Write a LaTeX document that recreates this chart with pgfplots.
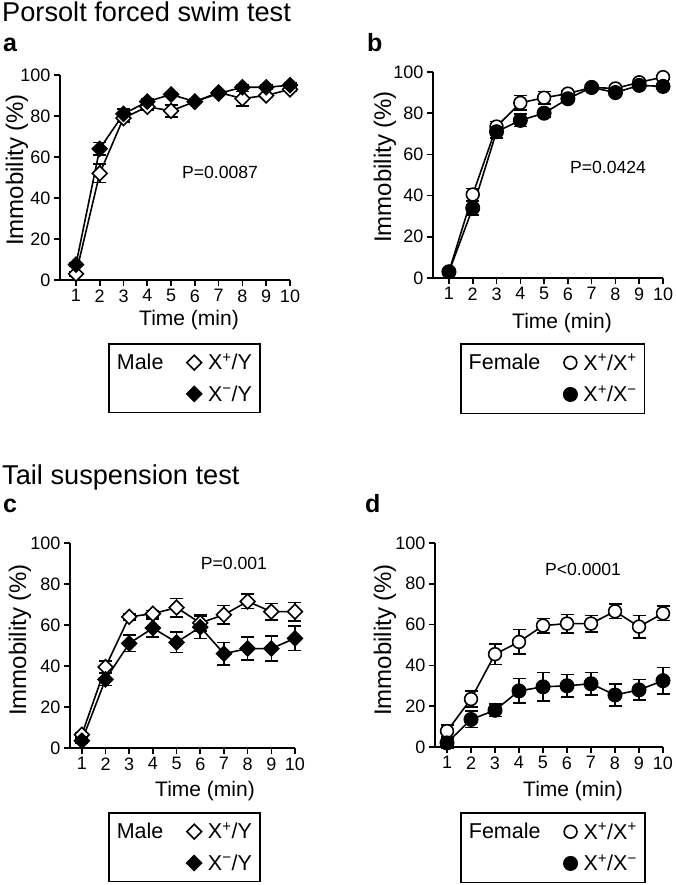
\documentclass[border=0pt]{standalone}
\usepackage{pgfplots}
\pgfplotsset{compat=1.18}
\usepackage{fontspec}
\setmainfont{Liberation Sans}

\pgfplotsset{
  panel/.style={
    scale only axis, clip=false,
    axis x line*=bottom, axis y line*=left,
    axis line style={line width=1.6pt},
    tick align=outside, major tick length=6pt,
    tick style={line width=1.6pt, black},
    xtick={1,...,10}, ytick={0,20,...,100},
    ymin=0, ymax=100, xmax=10,
    ticklabel style={font=\fontsize{18}{20}\selectfont},
    /pgf/number format/assume math mode=true,
    legend columns=2,
    legend cell align=left,
    legend image code/.code={\draw plot coordinates {(0pt,0pt)};},
    legend style={draw=black, line width=1.6pt,
      font=\fontsize{21.5}{24}\selectfont,
      inner xsep=6pt, inner ysep=8pt, row sep=10pt,
      anchor=north west,
      /tikz/every even column/.append style={column sep=21pt},
      /tikz/column 3/.append style={column sep=4pt}},
  },
  ser/.style={black, line width=1.6pt, forget plot,
    /pgfplots/error bars/y dir=both,
    /pgfplots/error bars/y explicit,
    /pgfplots/error bars/error bar style={line width=1.6pt, black},
    /pgfplots/error bars/error mark options={rotate=90, mark size=6.5pt, line width=1.6pt, black}},
  openD/.style={mark=square*, mark size=5.2pt, mark options={rotate=45, fill=white, draw=black, line width=1.6pt, solid}},
  fillD/.style={mark=square*, mark size=5.5pt, mark options={rotate=45, fill=black, draw=black, line width=1pt, solid}},
  openC/.style={mark=*, mark size=6.4pt, mark options={fill=white, draw=black, line width=1.6pt, solid}},
  fillC/.style={mark=*, mark size=7pt, mark options={fill=black, draw=black, line width=1pt, solid}},
}

\pgfplotstableread{
x y e
1 3 1
2 52 4.5
3 79 2
4 84.5 1.5
5 82.5 3
6 87 1
7 91.5 1
8 88.5 3.5
9 90 1
10 93 1
}\aOpen
\pgfplotstableread{
x y e
1 7.5 1
2 64 3
3 81 2.5
4 87 1.5
5 90.5 1
6 87 1
7 91 1
8 94 1
9 94 1
10 95 1
}\aFill
\pgfplotstableread{
x y e
1 3 1
2 40.5 3
3 73.5 2.5
4 85 3.5
5 87.5 3
6 89.5 1.5
7 92.5 1
8 92 1.5
9 95 1
10 97.5 1
}\bOpen
\pgfplotstableread{
x y e
1 3 1
2 34 3.5
3 71 3
4 76.5 3
5 80 2
6 87 1.5
7 92.5 1
8 90 1.5
9 93.5 1
10 93 1
}\bFill
\pgfplotstableread{
x y e
1 6.5 1
2 39.5 3
3 64 1.5
4 65.5 1.5
5 68.5 4.5
6 61 4
7 65 4.5
8 71.5 3.5
9 66.5 4
10 66.5 4.5
}\cOpen
\pgfplotstableread{
x y e
1 3.5 1
2 33.5 3
3 51 4
4 58.5 4.5
5 51.5 5
6 59 5.5
7 46 5.5
8 48.5 5.5
9 48.5 6
10 53.5 6
}\cFill
\pgfplotstableread{
x y e
1 7.8 3
2 23.5 4
3 45.5 5
4 51.5 6
5 59.5 3.5
6 60.5 4.5
7 60.5 4
8 66.5 3.5
9 59 5.5
10 65.5 3.5
}\dOpen
\pgfplotstableread{
x y e
1 2 2.5
2 13.5 4
3 18 3
4 27.5 6
5 29.5 7
6 30 5.5
7 31 5.5
8 25.5 5.5
9 28 5
10 32.5 6.5
}\dFill

\begin{document}
\begin{tikzpicture}[x=1pt,y=1pt]
\path[use as bounding box] (0,0) rectangle (675,885);

% Panel a
\begin{axis}[panel, at={(60pt,605pt)}, anchor=south west,
  width=230pt, height=205pt, xmin=0.33,
  legend style={at={(axis description cs:0.209,-0.307)}}]
\addplot[ser, openD] table[x=x, y=y, y error=e] {\aOpen};
\addplot[ser, fillD] table[x=x, y=y, y error=e] {\aFill};
\addlegendimage{empty legend}\addlegendentry{Male}
\addlegendimage{only marks, openD}\addlegendentry{X\textsuperscript{+}/Y\hspace{5pt}}
\addlegendimage{empty legend}\addlegendentry{}
\addlegendimage{only marks, fillD}\addlegendentry{X\textsuperscript{−}/Y}
\end{axis}

% Panel b
\begin{axis}[panel, at={(433pt,607pt)}, anchor=south west,
  width=230pt, height=206pt, xmin=0.33,
  legend style={at={(axis description cs:0.117,-0.316)}}]
\addplot[ser, openC] table[x=x, y=y, y error=e] {\bOpen};
\addplot[ser, fillC] table[x=x, y=y, y error=e] {\bFill};
\addlegendimage{empty legend}\addlegendentry{Female}
\addlegendimage{only marks, openC}\addlegendentry{X\textsuperscript{+}/X\textsuperscript{+}\hspace{5pt}}
\addlegendimage{empty legend}\addlegendentry{}
\addlegendimage{only marks, fillC}\addlegendentry{X\textsuperscript{+}/X\textsuperscript{−}}
\end{axis}

% Panel c
\begin{axis}[panel, at={(70pt,137pt)}, anchor=south west,
  width=225pt, height=205pt, xmin=0.5,
  legend style={at={(axis description cs:0.169,-0.312)}}]
\addplot[ser, openD] table[x=x, y=y, y error=e] {\cOpen};
\addplot[ser, fillD] table[x=x, y=y, y error=e] {\cFill};
\addlegendimage{empty legend}\addlegendentry{Male}
\addlegendimage{only marks, openD}\addlegendentry{X\textsuperscript{+}/Y\hspace{5pt}}
\addlegendimage{empty legend}\addlegendentry{}
\addlegendimage{only marks, fillD}\addlegendentry{X\textsuperscript{−}/Y}
\end{axis}

% Panel d
\begin{axis}[panel, at={(435pt,138pt)}, anchor=south west,
  width=228pt, height=204pt, xmin=0.5,
  legend style={at={(axis description cs:0.110,-0.319)}}]
\addplot[ser, openC] table[x=x, y=y, y error=e] {\dOpen};
\addplot[ser, fillC] table[x=x, y=y, y error=e] {\dFill};
\addlegendimage{empty legend}\addlegendentry{Female}
\addlegendimage{only marks, openC}\addlegendentry{X\textsuperscript{+}/X\textsuperscript{+}\hspace{5pt}}
\addlegendimage{empty legend}\addlegendentry{}
\addlegendimage{only marks, fillC}\addlegendentry{X\textsuperscript{+}/X\textsuperscript{−}}
\end{axis}

% titles and panel letters
\node[anchor=base west, inner sep=0pt, font=\fontsize{27.2}{30}\selectfont] at (2,863) {Porsolt forced swim test};
\node[anchor=base west, inner sep=0pt, font=\bfseries\fontsize{25}{28}\selectfont] at (3,833) {a};
\node[anchor=base west, inner sep=0pt, font=\bfseries\fontsize{25}{28}\selectfont] at (367,833) {b};
\node[anchor=base west, inner sep=0pt, font=\fontsize{27.2}{30}\selectfont] at (2,400) {Tail suspension test};
\node[anchor=base west, inner sep=0pt, font=\bfseries\fontsize{25}{28}\selectfont] at (3,372) {c};
\node[anchor=base west, inner sep=0pt, font=\bfseries\fontsize{25}{28}\selectfont] at (365,372) {d};

% axis labels
\node[anchor=base, inner sep=0pt, font=\fontsize{21}{24}\selectfont] at (189,559) {Time (min)};
\node[anchor=base, inner sep=0pt, font=\fontsize{21}{24}\selectfont] at (562,556) {Time (min)};
\node[anchor=base, inner sep=0pt, font=\fontsize{21}{24}\selectfont] at (205,88) {Time (min)};
\node[anchor=base, inner sep=0pt, font=\fontsize{21}{24}\selectfont] at (573,88) {Time (min)};
\node[rotate=90, inner sep=0pt, font=\fontsize{24}{27}\selectfont] at (17,715) {Immobility (\%)};
\node[rotate=90, inner sep=0pt, font=\fontsize{24}{27}\selectfont] at (385,718) {Immobility (\%)};
\node[rotate=90, inner sep=0pt, font=\fontsize{24}{27}\selectfont] at (20,245) {Immobility (\%)};
\node[rotate=90, inner sep=0pt, font=\fontsize{24}{27}\selectfont] at (385,245) {Immobility (\%)};

% P values
\node[inner sep=0pt, font=\fontsize{17.6}{20}\selectfont] at (220,713) {P=0.0087};
\node[inner sep=0pt, font=\fontsize{17.6}{20}\selectfont] at (608,718) {P=0.0424};
\node[inner sep=0pt, font=\fontsize{17.6}{20}\selectfont] at (234,322) {P=0.001};
\node[inner sep=0pt, font=\fontsize{17.6}{20}\selectfont] at (583,316) {P<0.0001};
\end{tikzpicture}
\end{document}
